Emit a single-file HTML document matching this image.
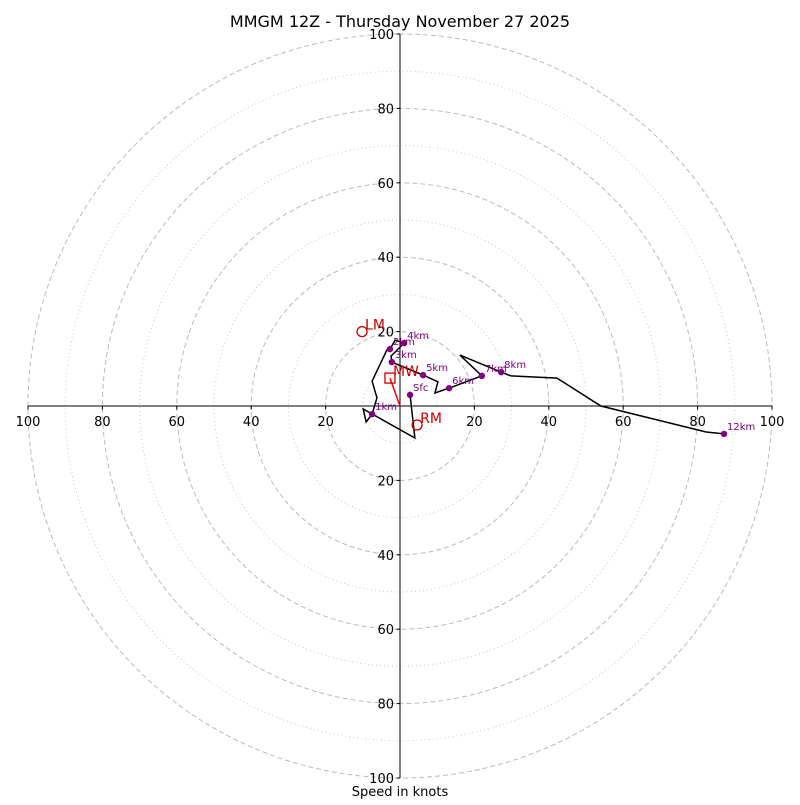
<!DOCTYPE html>
<html><head><meta charset="utf-8"><style>
body{margin:0;background:#fff}
svg{font-family:"DejaVu Sans","Liberation Sans",sans-serif}
</style></head><body>
<svg id="c" width="800" height="800" viewBox="0 0 800 800">
<text x="400" y="27" text-anchor="middle" font-size="16">MMGM 12Z - Thursday November 27 2025</text>
<text x="400" y="796" text-anchor="middle" font-size="13">Speed in knots</text>
</svg>
<script>
const ringsMajor=[20,40,60,80,100];
const ringsMinor=[10,30,50,70,90];
const tickLabels=[20,40,60,80,100];
const pathU=[2.7,4.0,-9.9,-9.1,-7.5,-6.2,-7.5,-3.5,-2.7,-1.3,1.1,-2.4,-2.2,6.2,10.2,9.4,13.2,22.0,16.1,27.2,29.8,42.2,54.0,82.3,87.1];
const pathV=[3.0,-8.6,-0.8,-4.3,-2.2,2.2,6.7,15.1,15.3,17.7,16.9,13.4,11.8,8.3,6.5,3.5,4.8,8.1,13.7,9.1,8.1,7.5,0,-7.0,-7.5];
const markNames=["Sfc","1km","2km","3km","4km","5km","6km","7km","8km","12km"];
const markU=[2.7,-7.5,-2.7,-2.2,1.1,6.2,13.2,22.0,27.2,87.1];
const markV=[3.0,-2.2,15.3,11.8,16.9,8.3,4.8,8.1,9.1,-7.5];
const motionNames=["LM","MW","RM"];
const motionU=[-10.2,-2.7,4.6];
const motionV=[20.0,7.5,-5.1];
const NS="http://www.w3.org/2000/svg",svg=document.getElementById('c');
const cx=400,cy=406,k=3.72;
const X=u=>cx+u*k,Y=v=>cy-v*k;
function el(t,a,txt){const e=document.createElementNS(NS,t);for(const n in a)e.setAttribute(n,a[n]);if(txt!==undefined)e.textContent=txt;svg.appendChild(e);return e;}
ringsMinor.forEach(r=>{const e=el('circle',{cx,cy,r:r*k,fill:'none',stroke:'#c8c8c8','stroke-dasharray':'1,3','stroke-width':1});

});
ringsMajor.forEach(r=>{const e=el('circle',{cx,cy,r:r*k,fill:'none',stroke:'#bbb','stroke-dasharray':'5,3','stroke-width':1});

});
let a=el('line',{x1:X(-100),y1:cy,x2:X(100),y2:cy,stroke:'#000'});


a=el('line',{x1:cx,y1:Y(100),x2:cx,y2:Y(-100),stroke:'#000'});


tickLabels.forEach(t=>{[-1,1].forEach(s=>{
 el('line',{x1:X(s*t),y1:cy,x2:X(s*t),y2:cy+3.5,stroke:'#000'});
 let e=el('text',{x:X(s*t),y:cy+20,'text-anchor':'middle','font-size':13},t);
 
 
 el('line',{x1:cx-3.5,y1:Y(s*t),x2:cx,y2:Y(s*t),stroke:'#000'});
 e=el('text',{x:cx-6,y:Y(s*t)+5,'text-anchor':'end','font-size':13},t);
 
 
});});
let p=el('polyline',{points:pathU.map((u,i)=>X(u)+','+Y(pathV[i])).join(' '),fill:'none',stroke:'#000','stroke-width':1.5});


const mw=1;
p=el('line',{x1:cx,y1:cy,x2:X(motionU[mw]),y2:Y(motionV[mw]),stroke:'red','stroke-width':1.5});


markNames.forEach((n,i)=>{
 const m=el('circle',{cx:X(markU[i]),cy:Y(markV[i]),r:3.2,fill:'purple'});
 
 
 const t=el('text',{x:X(markU[i])+3,y:Y(markV[i])-4,'font-size':10,fill:'purple'},n);
 
 
});
motionNames.forEach((n,i)=>{
 const x=X(motionU[i]),y=Y(motionV[i]);
 let m;
 if(n==='MW')m=el('rect',{x:x-5,y:y-5,width:10,height:10,fill:'none',stroke:'#c00','stroke-width':1.3});
 else m=el('circle',{cx:x,cy:y,r:5,fill:'none',stroke:'#c00','stroke-width':1.3});
 
 
 const t=el('text',{x:x+3,y:y-2,'font-size':14,fill:'#c00'},n);
 
 
});
</script>
</body></html>
